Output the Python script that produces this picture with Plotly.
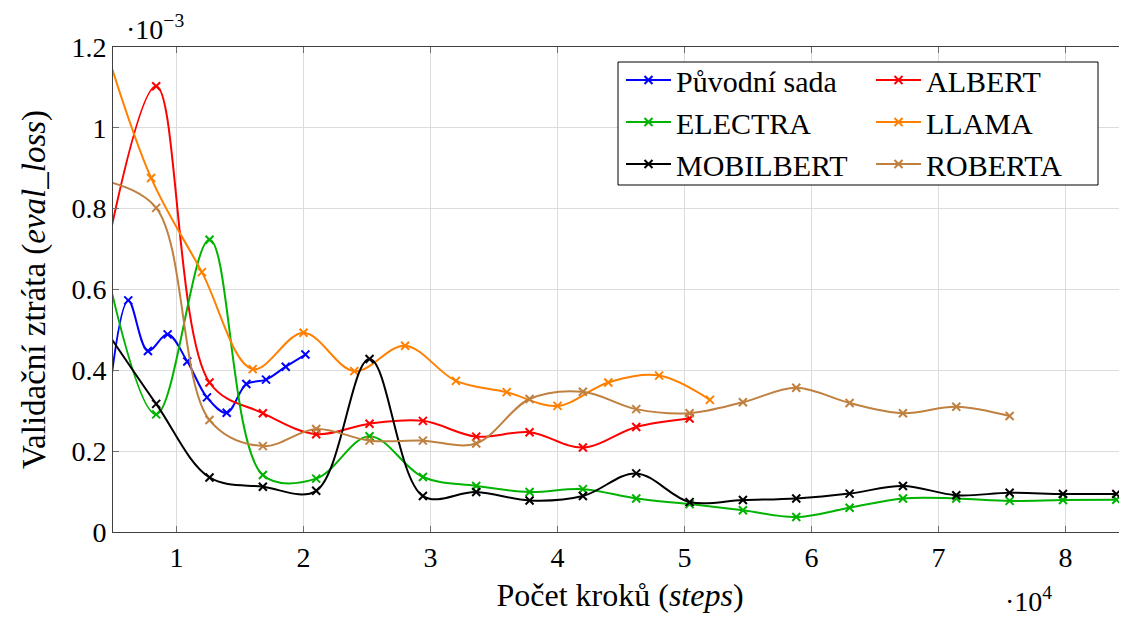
import plotly.graph_objects as go

# x in units of 10^4 steps, y in units of 10^-3
x_orig = [0.465, 0.62, 0.775, 0.93, 1.085, 1.24, 1.395, 1.55, 1.705, 1.86, 2.015]
y_orig = [0.325, 0.573, 0.448, 0.489, 0.422, 0.333, 0.295, 0.366, 0.377, 0.409, 0.439]

x_albert = [0.42, 0.84, 1.26, 1.68, 2.10, 2.52, 2.94, 3.36, 3.78, 4.20, 4.62, 5.04]
y_albert = [0.65, 1.103, 0.370, 0.294, 0.242, 0.268, 0.275, 0.236, 0.247, 0.209, 0.260, 0.281]

x_electra = [0.42, 0.84, 1.26, 1.68, 2.10, 2.52, 2.94, 3.36, 3.78, 4.20,
             4.62, 5.04, 5.46, 5.88, 6.30, 6.72, 7.14, 7.56, 7.98, 8.40]
y_electra = [0.69, 0.291, 0.723, 0.141, 0.132, 0.237, 0.136, 0.114, 0.099, 0.106,
             0.083, 0.069, 0.054, 0.037, 0.060, 0.083, 0.083, 0.077, 0.079, 0.080]

x_llama = [0.4, 0.8, 1.2, 1.6, 2.0, 2.4, 2.8, 3.2, 3.6, 4.0, 4.4, 4.8, 5.2]
y_llama = [1.24, 0.876, 0.643, 0.403, 0.493, 0.398, 0.461, 0.374, 0.346, 0.312, 0.370, 0.387, 0.327]

x_mobilbert = [0.42, 0.84, 1.26, 1.68, 2.10, 2.52, 2.94, 3.36, 3.78, 4.20,
               4.62, 5.04, 5.46, 5.88, 6.30, 6.72, 7.14, 7.56, 7.98, 8.40]
y_mobilbert = [0.51, 0.317, 0.135, 0.112, 0.102, 0.428, 0.089, 0.099, 0.078, 0.089,
               0.145, 0.074, 0.079, 0.083, 0.095, 0.114, 0.091, 0.097, 0.094, 0.094]

x_roberta = [0.42, 0.84, 1.26, 1.68, 2.10, 2.52, 2.94, 3.36, 3.78, 4.20,
             4.62, 5.04, 5.46, 5.88, 6.30, 6.72, 7.14, 7.56]
y_roberta = [0.87, 0.802, 0.277, 0.2125, 0.255, 0.226, 0.226, 0.219, 0.329, 0.347,
             0.304, 0.294, 0.321, 0.357, 0.319, 0.294, 0.310, 0.287]

x_ticks = [1, 2, 3, 4, 5, 6, 7, 8]
y_ticks = [0, 0.2, 0.4, 0.6, 0.8, 1.0, 1.2]
y_tick_labels = ["0", "0.2", "0.4", "0.6", "0.8", "1", "1.2"]

# (name, x, y, colour, legend column)
series = [
    ("Původní sada", x_orig, y_orig, "#0000ff", "legend"),
    ("ALBERT", x_albert, y_albert, "#ff0000", "legend2"),
    ("ELECTRA", x_electra, y_electra, "#00b300", "legend"),
    ("LLAMA", x_llama, y_llama, "#ff8000", "legend2"),
    ("MOBILBERT", x_mobilbert, y_mobilbert, "#000000", "legend"),
    ("ROBERTA", x_roberta, y_roberta, "#bf8040", "legend2"),
]

FONT = "Liberation Serif, Times New Roman, serif"

fig = go.Figure()
for name, xs, ys, col, leg in series:
    fig.add_trace(go.Scatter(
        x=xs, y=ys, name=name, mode="lines+markers", legend=leg,
        line=dict(color=col, width=2, shape="spline", smoothing=1.0),
        marker=dict(symbol="x-thin", size=8, line=dict(color=col, width=2), color=col),
    ))

# page body has an 8px margin; compensate so the visible picture lines up
OFF = 8
W, H = 1127 - OFF, 617 - OFF
L, R, T, B = 113 - OFF, 0, 47 - OFF, 85
pw = W - L - R
ph = H - T - B
xmin = 0.5
px_per_unit = 127.0
xmax = xmin + pw / px_per_unit


def px_to_paper(vx, vy):
    """viewport pixel -> paper coords"""
    fx, fy = vx - OFF, vy - OFF
    return (fx - L) / pw, (H - B - fy) / ph


l1x, l1y = px_to_paper(621, 54)
l2x, l2y = px_to_paper(871, 54)
bx0, by0 = px_to_paper(618, 185)
bx1, by1 = px_to_paper(1098, 62)
a1x, a1y = px_to_paper(124, 8)
a2x, a2y = px_to_paper(1003, 580)

leg_common = dict(
    orientation="v", xanchor="left", yanchor="top",
    bgcolor="rgba(0,0,0,0)", borderwidth=0,
    font=dict(family=FONT, size=30, color="black"),
    traceorder="normal", tracegroupgap=0, itemwidth=45,
)

# right-aligned tick labels; leading no-break spaces only widen the label box
NB = "\u00a0\u00a0"

fig.update_layout(
    width=W, height=H,
    margin=dict(l=L, r=R, t=T, b=B, autoexpand=False),
    paper_bgcolor="white", plot_bgcolor="white",
    font=dict(family=FONT, color="black", size=28),
    showlegend=True,
    legend=dict(x=l1x, y=l1y, **leg_common),
    legend2=dict(x=l2x, y=l2y, **leg_common),
    shapes=[dict(type="rect", xref="paper", yref="paper",
                 x0=bx0, y0=by0, x1=bx1, y1=by1,
                 line=dict(color="black", width=1), fillcolor="white", layer="above")],
    xaxis=dict(
        range=[xmin, xmax], tickvals=x_ticks, ticktext=[str(t) for t in x_ticks],
        showgrid=True, gridcolor="#dcdcdc", gridwidth=1,
        showline=True, linecolor="#404040", linewidth=1, mirror="allticks",
        ticks="inside", ticklen=6, tickcolor="#707070",
        tickfont=dict(family=FONT, size=28, color="black"), zeroline=False,
        title=dict(text="Počet kroků (<i>steps</i>)",
                   font=dict(family=FONT, size=32, color="black"), standoff=12),
    ),
    yaxis=dict(
        range=[0, 1.2], tickvals=y_ticks, ticktext=[NB + t for t in y_tick_labels],
        showgrid=True, gridcolor="#dcdcdc", gridwidth=1,
        showline=True, linecolor="#404040", linewidth=1, mirror=False,
        ticks="inside", ticklen=6, tickcolor="#707070",
        tickfont=dict(family=FONT, size=28, color="black"), zeroline=False,
        title=dict(text="Validační ztráta (<i>eval_loss</i>)",
                   font=dict(family=FONT, size=33, color="black"), standoff=1),
    ),
    annotations=[
        dict(text="·10<sup>−3</sup>", x=a1x, y=a1y, xref="paper", yref="paper",
             xanchor="left", yanchor="top",
             showarrow=False, font=dict(family=FONT, size=28, color="black")),
        dict(text="·10<sup>4</sup>", x=a2x, y=a2y, xref="paper", yref="paper",
             xanchor="left", yanchor="top",
             showarrow=False, font=dict(family=FONT, size=28, color="black")),
    ],
)

fig.write_html("out.html")
